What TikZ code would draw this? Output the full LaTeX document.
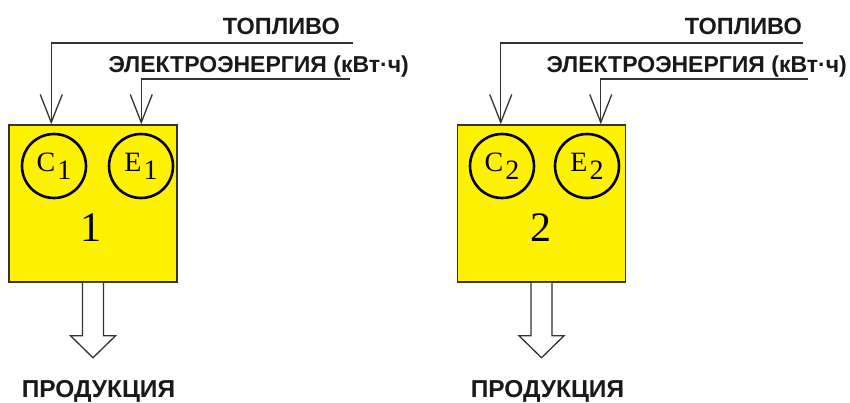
\documentclass[tikz,border=0pt]{standalone}
\usepackage{fontspec}
\setmainfont{Liberation Serif}
\newfontfamily\labfont{Liberation Sans}
\usetikzlibrary{arrows.meta}

\begin{document}
\begin{tikzpicture}[x=1pt,y=-1pt,
  plant/.style={draw=black!80, line width=1.5pt, fill=yellow, minimum width=168pt,
    minimum height=157pt, inner sep=0},
  meter/.style={circle, draw=black, line width=2.6pt, minimum size=64pt, inner sep=0,
    font=\fontsize{28}{28}\selectfont},
  feed/.style={draw=black!80, line width=1.3pt,
    -{Straight Barb[length=28pt,width=22pt,line width=1.3pt]}},
  lab/.style={font=\labfont\bfseries\fontsize{23.5}{23.5}\selectfont, inner sep=0, text=black!90},
  elab/.style={lab, font=\labfont\bfseries\fontsize{23}{23}\selectfont},
  plab/.style={lab, font=\labfont\bfseries\fontsize{24.5}{24.5}\selectfont},
  num/.style={font=\fontsize{42}{42}\selectfont, inner sep=0},
  outarrow/.style={draw=black!80, line width=1.3pt, fill=white}
]
% canvas
\fill[white] (0,0) rectangle (850,403);
\useasboundingbox (0,0) rectangle (850,403);

% ---- plant 1 ----
\node[plant] (box1) at (93,203.5) {};
\node[meter] (c1) at (54,166) {C\hspace{2pt}\raisebox{-8pt}{1}};
\node[meter] (e1) at (141,166) {E\hspace{2pt}\raisebox{-8pt}{1}};
\node[num, anchor=base] (n1) at (91,241) {1};

\coordinate (f1) at (353,43);
\coordinate (g1) at (350,79);
\coordinate (t1) at ([xshift=43pt]box1.north west);
\coordinate (u1) at ([xshift=133pt]box1.north west);
\draw[feed] (f1) -| (t1);
\draw[feed] (g1) -| (u1);
\node[lab, anchor=base east] (fl1) at (340,35) {ТОПЛИВО};
\node[elab, anchor=base east] (el1) at (409,73) {ЭЛЕКТРОЭНЕРГИЯ (кВт·ч)};

\draw[outarrow] ([xshift=-10.5pt]box1.south) -- ++(0,53) -- ++(-12,0) -- ++(22.5,22)
  -- ++(22.5,-22) -- ++(-12,0) -- ([xshift=10.5pt]box1.south);
\node[plab, anchor=base] (p1) at (98.5,397) {ПРОДУКЦИЯ};

% ---- plant 2 ----
\node[plant] (box2) at (541.5,203.5) {};
\node[meter] (c2) at (502,166) {C\hspace{2pt}\raisebox{-8pt}{2}};
\node[meter] (e2) at (587,166) {E\hspace{2pt}\raisebox{-8pt}{2}};
\node[num, anchor=base] (n2) at (541,241) {2};

\coordinate (f2) at (803,43);
\coordinate (g2) at (808,79);
\coordinate (t2) at ([xshift=44pt]box2.north west);
\coordinate (u2) at ([xshift=144pt]box2.north west);
\draw[feed] (f2) -| (t2);
\draw[feed] (g2) -| (u2);
\node[lab, anchor=base east] (fl2) at (802,35) {ТОПЛИВО};
\node[elab, anchor=base east] (el2) at (847,73) {ЭЛЕКТРОЭНЕРГИЯ (кВт·ч)};

\draw[outarrow] ([xshift=-10.5pt]box2.south) -- ++(0,53) -- ++(-12,0) -- ++(22.5,22)
  -- ++(22.5,-22) -- ++(-12,0) -- ([xshift=10.5pt]box2.south);
\node[plab, anchor=base] (p2) at (547.5,397) {ПРОДУКЦИЯ};
\end{tikzpicture}
\end{document}
